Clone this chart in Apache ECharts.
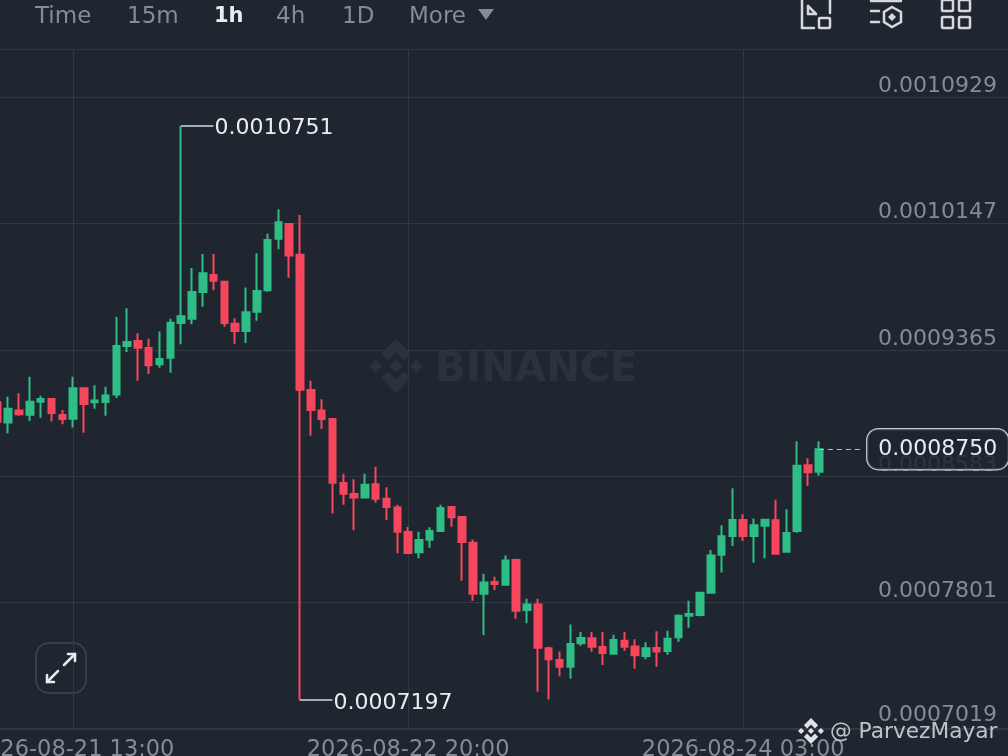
<!DOCTYPE html>
<html><head><meta charset="utf-8">
<style>html,body{margin:0;padding:0;background:#1f2630;overflow:hidden}#c{width:1008px;height:756px}</style>
<script src="https://cdn.jsdelivr.net/npm/echarts@6/dist/echarts.min.js"></script>
</head><body><div id="c"></div>
<script>
const categories = [
"2026-08-21 06:00","2026-08-21 07:00","2026-08-21 08:00","2026-08-21 09:00","2026-08-21 10:00","2026-08-21 11:00","2026-08-21 12:00","2026-08-21 13:00","2026-08-21 14:00","2026-08-21 15:00","2026-08-21 16:00","2026-08-21 17:00","2026-08-21 18:00","2026-08-21 19:00","2026-08-21 20:00","2026-08-21 21:00","2026-08-21 22:00","2026-08-21 23:00",
"2026-08-22 00:00","2026-08-22 01:00","2026-08-22 02:00","2026-08-22 03:00","2026-08-22 04:00","2026-08-22 05:00","2026-08-22 06:00","2026-08-22 07:00","2026-08-22 08:00","2026-08-22 09:00","2026-08-22 10:00","2026-08-22 11:00","2026-08-22 12:00","2026-08-22 13:00","2026-08-22 14:00","2026-08-22 15:00","2026-08-22 16:00","2026-08-22 17:00","2026-08-22 18:00","2026-08-22 19:00","2026-08-22 20:00","2026-08-22 21:00","2026-08-22 22:00","2026-08-22 23:00",
"2026-08-23 00:00","2026-08-23 01:00","2026-08-23 02:00","2026-08-23 03:00","2026-08-23 04:00","2026-08-23 05:00","2026-08-23 06:00","2026-08-23 07:00","2026-08-23 08:00","2026-08-23 09:00","2026-08-23 10:00","2026-08-23 11:00","2026-08-23 12:00","2026-08-23 13:00","2026-08-23 14:00","2026-08-23 15:00","2026-08-23 16:00","2026-08-23 17:00","2026-08-23 18:00","2026-08-23 19:00","2026-08-23 20:00","2026-08-23 21:00","2026-08-23 22:00","2026-08-23 23:00",
"2026-08-24 00:00","2026-08-24 01:00","2026-08-24 02:00","2026-08-24 03:00","2026-08-24 04:00","2026-08-24 05:00","2026-08-24 06:00","2026-08-24 07:00","2026-08-24 08:00","2026-08-24 09:00","2026-08-24 10:00","2026-08-24 11:00","2026-08-24 12:00","2026-08-24 13:00","2026-08-24 14:00","2026-08-24 15:00","2026-08-24 16:00","2026-08-24 17:00","2026-08-24 18:00","2026-08-24 19:00","2026-08-24 20:00","2026-08-24 21:00","2026-08-24 22:00","2026-08-24 23:00",
"2026-08-25 00:00","2026-08-25 01:00","2026-08-25 02:00","2026-08-25 03:00"];
const tickLabels = ["2026-08-21 13:00","2026-08-22 20:00","2026-08-24 03:00"];
const opens = [0.0009040,0.0008916,0.0008990,0.0008963,0.0009044,0.0009060,0.0008961,0.0008939,0.0009127,0.0009040,0.0009042,0.0009089,0.0009388,0.0009419,0.0009376,0.0009275,0.0009316,0.0009531,0.0009557,0.0009722,0.0009828,0.0009786,0.0009526,0.0009481,0.0009601,0.0009733,0.0010052,0.0010143,0.0009953,0.0009116,0.0008990,0.0008937,0.0008541,0.0008473,0.0008452,0.0008533,0.0008444,0.0008390,0.0008238,0.0008112,0.0008190,0.0008244,0.0008392,0.0008330,0.0008171,0.0007856,0.0007928,0.0007911,0.0008064,0.0007755,0.0007790,0.0007518,0.0007446,0.0007404,0.0007549,0.0007580,0.0007526,0.0007485,0.0007565,0.0007530,0.0007470,0.0007520,0.0007501,0.0007586,0.0007720,0.0007724,0.0007862,0.0008097,0.0008213,0.0008312,0.0008213,0.0008277,0.0008310,0.0008116,0.0008244,0.0008650,0.0008611];
const closes = [0.0008920,0.0009000,0.0008966,0.0009044,0.0009060,0.0008974,0.0008937,0.0009127,0.0009029,0.0009052,0.0009083,0.0009388,0.0009413,0.0009378,0.0009269,0.0009308,0.0009532,0.0009572,0.0009722,0.0009838,0.0009792,0.0009531,0.0009481,0.0009597,0.0009729,0.0010044,0.0010154,0.0009949,0.0009118,0.0008992,0.0008937,0.0008543,0.0008475,0.0008452,0.0008530,0.0008444,0.0008392,0.0008239,0.0008108,0.0008188,0.0008244,0.0008386,0.0008329,0.0008176,0.0007856,0.0007926,0.0007916,0.0008062,0.0007751,0.0007790,0.0007522,0.0007450,0.0007404,0.0007545,0.0007582,0.0007528,0.0007489,0.0007569,0.0007528,0.0007475,0.0007518,0.0007499,0.0007577,0.0007720,0.0007730,0.0007862,0.0008093,0.0008211,0.0008312,0.0008213,0.0008279,0.0008314,0.0008103,0.0008231,0.0008648,0.0008607,0.0008750];
const lows = [0.0008900,0.0008848,0.0008957,0.0008924,0.0008945,0.0008922,0.0008904,0.0008885,0.0008852,0.0009000,0.0008957,0.0009067,0.0009351,0.0009174,0.0009215,0.0009254,0.0009223,0.0009399,0.0009523,0.0009631,0.0009733,0.0009508,0.0009403,0.0009407,0.0009545,0.0009724,0.0009987,0.0009811,0.0007197,0.0008833,0.0008875,0.0008353,0.0008406,0.0008248,0.0008452,0.0008421,0.0008312,0.0008106,0.0008103,0.0008075,0.0008140,0.0008239,0.0008270,0.0007936,0.0007812,0.0007600,0.0007879,0.0007911,0.0007701,0.0007673,0.0007249,0.0007202,0.0007345,0.0007330,0.0007534,0.0007497,0.0007415,0.0007481,0.0007503,0.0007392,0.0007450,0.0007404,0.0007478,0.0007559,0.0007645,0.0007716,0.0007856,0.0007988,0.0008151,0.0008184,0.0008048,0.0008075,0.0008103,0.0008109,0.0008233,0.0008522,0.0008586];
const highs = [0.0009073,0.0009075,0.0009096,0.0009198,0.0009081,0.0009067,0.0008992,0.0009198,0.0009127,0.0009145,0.0009137,0.0009568,0.0009622,0.0009467,0.0009434,0.0009479,0.0009557,0.0010751,0.0009871,0.0009958,0.0009958,0.0009792,0.0009560,0.0009751,0.0009962,0.0010083,0.0010234,0.0010143,0.0010199,0.0009174,0.0009059,0.0008941,0.0008598,0.0008564,0.0008598,0.0008642,0.0008514,0.0008406,0.0008268,0.0008239,0.0008267,0.0008406,0.0008397,0.0008335,0.0008192,0.0007980,0.0007961,0.0008093,0.0008072,0.0007825,0.0007825,0.0007528,0.0007499,0.0007666,0.0007619,0.0007619,0.0007619,0.0007602,0.0007619,0.0007574,0.0007555,0.0007623,0.0007627,0.0007728,0.0007813,0.0007866,0.0008126,0.0008279,0.0008508,0.0008347,0.0008322,0.0008314,0.0008437,0.0008378,0.0008799,0.0008694,0.0008799];
const highIndex = 17, highPrice = 0.0010751;
const lowIndex = 28, lowPrice = 0.0007197;
const lastIndex = 76, lastPrice = 0.0008750;
const tabs = ["Time","15m","1h","4h","1D","More"];
const UP = "#2EBD85", DOWN = "#F6465D", BG = "#1f2630", GRID = "#323945", MUTED = "#858c98";
const FONT = "'DejaVu Sans', sans-serif";

const rows = opens.map((o, i) => [o, closes[i], lows[i], highs[i]]);
const isTick = (i, v) => tickLabels.includes(v);
const fmt = v => Number(v).toFixed(7);
const yLabel = v => Math.abs(v - 0.0007019) < 1e-9 ? "{low|" + fmt(v) + "}" : fmt(v);

function line(x1, y1, x2, y2, c, w) {
  return {type:"line", shape:{x1,y1,x2,y2}, style:{stroke:c, lineWidth:w, lineCap:"round"}, z:5, silent:true};
}
function rect(x, y, width, height, c, w, r) {
  return {type:"rect", shape:{x,y,width,height,r:r||0}, style:{stroke:c, fill:"none", lineWidth:w}, z:5, silent:true};
}
function poly(points, fill, z) {
  return {type:"polygon", shape:{points}, style:{fill}, z:z||5, silent:true};
}
function logo(cx, cy, s, fill, z) {
  const P = a => a.map(p => [cx + p[0]*s, cy + p[1]*s]);
  const d = (x, y, r) => P([[x, y-r],[x+r, y],[x, y+r],[x-r, y]]);
  return [
    poly(d(0,0,.24), fill, z), poly(d(-.76,0,.24), fill, z), poly(d(.76,0,.24), fill, z),
    poly(P([[0,-1],[.55,-.45],[.3,-.2],[0,-.5],[-.3,-.2],[-.55,-.45]]), fill, z),
    poly(P([[0,1],[.55,.45],[.3,.2],[0,.5],[-.3,.2],[-.55,.45]]), fill, z)
  ];
}
const tabX = [35,127,214,276,342,409];
const header = tabs.map((t, i) => ({
  type:"text", x:tabX[i], y:17,
  style:{text:t, fill:t==="1h"?"#eaecef":MUTED, font:(t==="1h"?"600 21px ":"400 23px ")+FONT, textVerticalAlign:"middle"},
  z:5, silent:true
}));
const ICON = "#d5d8dd";
const graphics = [
  {type:"text", x:435, y:370, style:{text:"BINANCE", fill:"#2b323d", font:"700 40.5px "+FONT, textVerticalAlign:"middle"}, z:1, silent:true},
  ...logo(396,366,27,"#2b323d",1),
  ...header,
  poly([[478,9],[494,9],[486,20]], MUTED),
  // first header icon
  line(802,0,802,28,ICON,2.5), line(802,28,814,28,ICON,2.5), line(830,0,830,13,ICON,2.5),
  rect(819,18,11,10,ICON,2.5,1),
  line(808,6,816,14,ICON,2.5), line(808,14,816,14,ICON,2.5), line(808,6,808,14,ICON,2.5),
  // second header icon
  line(871,1,901,1,ICON,2.5), line(871,11,879,11,ICON,2.5), line(871,22,879,22,ICON,2.5),
  {type:"polygon", shape:{points:[[892,7],[901,12],[901,22],[892,27],[884,22],[884,12]]}, style:{stroke:ICON, fill:"none", lineWidth:2.5}, z:5, silent:true},
  poly([[892,13],[896,17],[892,21],[888,17]], ICON),
  // third header icon
  rect(942,0,11,11,ICON,2.5,1), rect(959,0,11,11,ICON,2.5,1), rect(942,17,11,11,ICON,2.5,1), rect(959,17,11,11,ICON,2.5,1),
  // expand button
  rect(36,643,50,50,"#383f4a",2,13),
  line(64,665,75,654,"#e8eaed",2.5), line(68,654,75,654,"#e8eaed",2.5), line(75,654,75,661,"#e8eaed",2.5),
  line(58,671,47,682,"#e8eaed",2.5), line(47,675,47,682,"#e8eaed",2.5), line(47,682,54,682,"#e8eaed",2.5),
  // author mark
  ...logo(811,731,13,"#dfe2e6",6),
  {type:"text", x:830, y:732, style:{text:"@ ParvezMayar", fill:"#c8ccd2", font:"400 21.7px "+FONT, textVerticalAlign:"middle", opacity:.95}, z:6, silent:true}
];

const chart = echarts.init(document.getElementById("c"), null, {renderer:"canvas"});
chart.setOption({
  animation:false,
  backgroundColor:BG,
  grid:{left:-8, right:0, top:49, bottom:27, outerBoundsMode:"none"},
  xAxis:{
    type:"category", data:categories, boundaryGap:true,
    axisLine:{show:true, lineStyle:{color:GRID, width:2}},
    axisTick:{show:false, alignWithLabel:true, interval:isTick},
    axisLabel:{color:MUTED, fontSize:22.5, fontFamily:FONT, margin:10, interval:isTick, hideOverlap:false},
    splitLine:{show:true, alignWithLabel:true, interval:isTick, lineStyle:{color:GRID, width:1}}
  },
  yAxis:{
    type:"value", position:"right", scale:true,
    min:0.0007019, max:0.0011226, interval:0.0000782,
    axisLine:{show:false}, axisTick:{show:false},
    axisLabel:{inside:true, margin:11, color:MUTED, fontSize:22, fontFamily:FONT, verticalAlign:"bottom", showMaxLabel:false, formatter:yLabel,
      rich:{low:{color:MUTED, fontSize:22, fontFamily:FONT, padding:[0,0,3,0]}}},
    splitLine:{show:true, lineStyle:{color:GRID, width:1}}
  },
  graphic:{elements:graphics},
  series:[{
    type:"candlestick", data:rows, barWidth:7, clip:false, z:3,
    itemStyle:{color:UP, color0:DOWN, borderColor:UP, borderColor0:DOWN, borderWidth:2},
    markLine:{
      silent:true, symbol:"none", animation:false,
      lineStyle:{color:"#d5d8dd", width:1.5, type:"solid"},
      label:{position:"end", distance:1, offset:[0,3], color:"#eaecef", fontSize:22, fontFamily:FONT, formatter:p => fmt(p.data.price)},
      data:[
        [{coord:[highIndex,highPrice], price:highPrice},{coord:[highIndex+3,highPrice]}],
        [{coord:[lowIndex,lowPrice], price:lowPrice},{coord:[lowIndex+3,lowPrice]}],
        [{coord:[lastIndex,lastPrice], price:lastPrice, lineStyle:{type:[5,4], color:"#b9bdc4", width:1.2}, label:{show:false}},{coord:[lastIndex+4,lastPrice]}]
      ]
    },
    markPoint:{
      silent:true, symbol:"rect", symbolSize:0, animation:false,
      label:{show:true, position:"inside", color:"#eaecef", fontSize:22, fontFamily:FONT,
        backgroundColor:"rgba(31,38,48,0.85)", borderColor:"#c7cad0", borderWidth:1.2, borderRadius:11, padding:[9,11,9,11],
        formatter:fmt(lastPrice)},
      data:[{coord:[lastIndex+11,lastPrice]}]
    }
  }]
});
</script></body></html>
